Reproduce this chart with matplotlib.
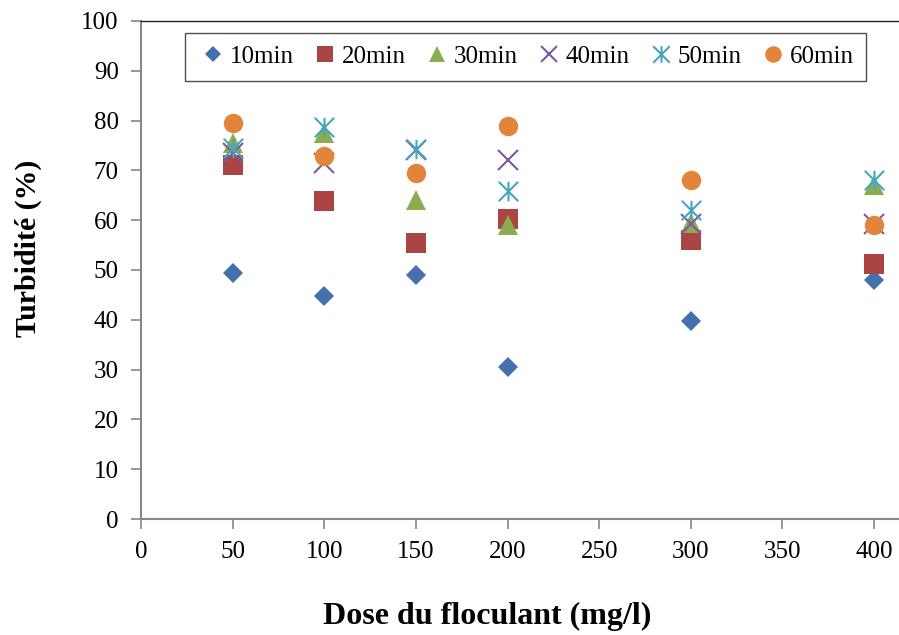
import numpy as np
import matplotlib.pyplot as plt
from matplotlib.path import Path

# Données
doses = [50, 100, 150, 200, 300, 400]
t10 = [49.4, 44.7, 49.0, 30.6, 39.7, 48.0]
t20 = [71.0, 63.8, 55.4, 60.2, 56.0, 51.3]
t30 = [75.5, 77.6, 64.1, 59.1, 59.5, 67.0]
t40 = [73.5, 71.5, 74.0, 72.0, 59.3, 59.2]
t50 = [74.5, 78.8, 74.2, 65.8, 62.0, 68.0]
t60 = [79.5, 72.8, 69.5, 78.9, 68.1, 59.1]

series_labels = ['10min', '20min', '30min', '40min', '50min', '60min']
x_ticks = np.arange(0, 401, 50)
y_ticks = np.arange(0, 101, 10)

# marqueur étoile (x + trait vertical) comme dans Excel
star = Path([(-0.5, -0.5), (0.5, 0.5), (-0.5, 0.5), (0.5, -0.5), (0, -0.5), (0, 0.5)],
            [Path.MOVETO, Path.LINETO, Path.MOVETO, Path.LINETO, Path.MOVETO, Path.LINETO])

plt.rcParams['font.family'] = ['Liberation Serif', 'DejaVu Serif']

W, H = 899, 635
fig = plt.figure(figsize=(W / 100, H / 100), dpi=100)
# axe x : 0 -> 141 px, 400 -> 874 px ; l'image est coupée à droite
ax = fig.add_axes([141 / W, 1 - 519 / H, 1 - 141 / W, (519 - 21) / H])
x_max = 400 * (W - 141) / (874 - 141)

styles = [
    dict(marker='D', color='#4271AC', ms=10),
    dict(marker='s', color='#AA4543', ms=14),
    dict(marker='^', color='#8CAD4F', ms=14),
    dict(marker='x', color='#7A5C9E', ms=14, mew=1.5),
    dict(marker=star, color='#46A6C0', ms=14, mew=1.5),
    dict(marker='o', color='#E2853B', ms=14),
]
data = [t10, t20, t30, t40, t50, t60]

for vals, lab, st in zip(data, series_labels, styles):
    ax.plot(doses, vals, linestyle='none', marker=st['marker'], color=st['color'],
            markersize=st['ms'], markeredgewidth=st.get('mew', 0), label=lab, clip_on=False)

ax.set_xlim(0, x_max)
ax.set_ylim(0, 100)
ax.set_xticks(x_ticks)
ax.set_yticks(y_ticks)
ax.tick_params(direction='out', length=7, width=1.2, labelsize=18, color='#888888')
ax.tick_params(axis='y', pad=9)
ax.tick_params(axis='x', pad=9)
ax.spines['right'].set_visible(False)
ax.spines['top'].set_color('#222222')
ax.spines['top'].set_linewidth(1.0)
for s in ['left', 'bottom']:
    ax.spines[s].set_color('#888888')
    ax.spines[s].set_linewidth(1.5)

fig.text(28 / W, 1 - 248 / H, 'Turbidité (%)', fontsize=21.5, fontweight='bold',
         rotation=90, ha='center', va='center')
fig.text(487 / W, 1 - 616 / H, 'Dose du floculant (mg/l)', fontsize=23, fontweight='bold',
         ha='center', va='center')

# légende : marqueurs un peu plus petits
leg_handles = []
for st in styles:
    lh, = ax.plot([], [], linestyle='none', marker=st['marker'], color=st['color'],
                  markersize=st['ms'] * 0.85, markeredgewidth=st.get('mew', 0))
    leg_handles.append(lh)
leg = ax.legend(leg_handles, series_labels, ncol=6, loc='upper left',
                bbox_to_anchor=((185 - 141) / (W - 141), (519 - 33) / 498),
                borderaxespad=0, fontsize=18, frameon=True, fancybox=False,
                handlelength=1.2, handletextpad=0.08, columnspacing=0.64,
                borderpad=0.5)
leg.get_frame().set_edgecolor('#222222')
leg.get_frame().set_linewidth(1.0)

fig.savefig('out.png', dpi=100)
